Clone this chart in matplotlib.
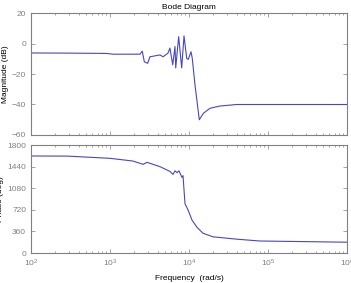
import matplotlib.pyplot as plt
import numpy as np
from matplotlib.ticker import LogLocator, NullFormatter

plt.rcParams['font.family'] = ['Liberation Sans', 'DejaVu Sans']

# magnitude response
freq_mag = [100, 300, 900, 1100, 2400, 2560, 2720, 3000, 3200, 4300, 4690, 5420,
            5740, 6220, 6650, 6790, 7400, 8080, 8650, 9350, 9800, 10600, 11000,
            11900, 13500, 15200, 18400, 24700, 40100, 1e6]
mag_db = [-6.2, -6.3, -6.5, -7.0, -7.0, -5.0, -12.0, -13.0, -8.7, -7.5, -8.7, -6.3,
          -3.0, -14.0, -2.0, -16.0, 4.5, -16.0, 5.0, -9.7, -10.4, -5.4, -9.7,
          -27.0, -50.0, -45.8, -42.5, -41.0, -40.0, -40.0]

# phase response
freq_ph = [100, 290, 1000, 1950, 2620, 2940, 4300, 5740, 6270, 6650, 7050, 7470,
           8150, 8400, 8900, 9710, 10900, 12600, 15000, 20100, 40500, 79200, 1e6]
phase_deg = [1617, 1615, 1578, 1533, 1478, 1511, 1439, 1360, 1310, 1370, 1340, 1370,
             1260, 1290, 820, 720, 550, 430, 330, 270, 230, 200, 180]

line_col = '#4646c8'
grey = '#808080'

fig = plt.figure(figsize=(3.51, 2.83), dpi=100)
ax1 = fig.add_axes([0.0883, 0.523, 0.9003, 0.431])
ax2 = fig.add_axes([0.0883, 0.106, 0.9003, 0.3816])

ax1.semilogx(freq_mag, mag_db, color=line_col, lw=0.8)
ax2.semilogx(freq_ph, phase_deg, color=line_col, lw=0.8)

for ax in (ax1, ax2):
    ax.set_xlim(1e2, 1e6)
    ax.xaxis.set_major_locator(LogLocator(base=10, numticks=10))
    ax.xaxis.set_minor_locator(LogLocator(base=10, subs=np.arange(2, 10), numticks=20))
    ax.xaxis.set_minor_formatter(NullFormatter())
    ax.tick_params(which='both', direction='in', top=True, right=True,
                   colors=grey, labelsize=6)
    ax.tick_params(which='major', length=3, width=0.5)
    ax.tick_params(which='minor', length=1.5, width=0.5)
    for s in ax.spines.values():
        s.set_color(grey)
        s.set_linewidth(0.8)

ax1.set_ylim(-60, 20)
ax1.set_yticks([-60, -40, -20, 0, 20])
ax1.tick_params(labelbottom=False)
ax1.set_title('Bode Diagram', fontsize=6, pad=3)
ax1.set_ylabel('Magnitude (dB)', fontsize=6, labelpad=2)

ax2.set_ylim(0, 1800)
ax2.set_yticks([0, 360, 720, 1080, 1440, 1800])
ax2.set_ylabel('Phase (deg)', fontsize=6, labelpad=2)
ax2.set_xlabel('Frequency  (rad/s)', fontsize=6, labelpad=4)

fig.savefig('out.png', dpi=100)
